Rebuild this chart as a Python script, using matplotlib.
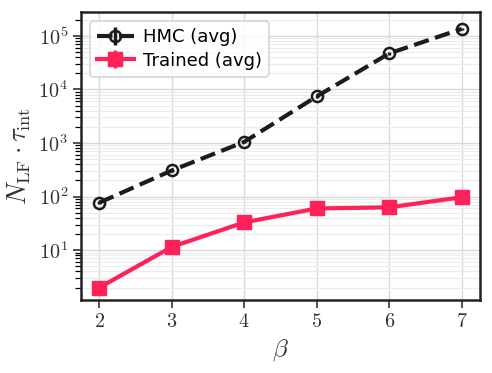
import matplotlib
matplotlib.use("Agg")
import matplotlib.pyplot as plt
from matplotlib.ticker import LogLocator, NullFormatter

beta = [2, 3, 4, 5, 6, 7]
hmc_avg = [77, 307, 1050, 7400, 47000, 135000]
hmc_err = [4, 15, 60, 400, 2500, 7000]
trained_avg = [2.0, 11.5, 33, 60, 63, 97]
trained_err = [0.1, 0.6, 1.5, 3, 3, 5]

plt.rcParams['mathtext.fontset'] = 'cm'
plt.rcParams['axes.formatter.use_mathtext'] = True

fig, ax = plt.subplots(figsize=(4.92, 3.73), dpi=100)
fig.subplots_adjust(left=0.165, right=0.975, bottom=0.195, top=0.968)

ax.errorbar(beta, hmc_avg, yerr=hmc_err, color='#1c1c1c', ls='--', lw=3,
            marker='o', ms=8, mfc='none', mew=1.8, elinewidth=2.5,
            label='HMC (avg)')
ax.errorbar(beta, trained_avg, yerr=trained_err, color='#ff2157', ls='-', lw=3,
            marker='s', ms=10, elinewidth=2.5, label='Trained (avg)')

ax.set_yscale('log')
ax.set_ylim(1.16, 2.8e5)
ax.set_xlim(1.75, 7.25)
ax.set_xticks(beta)
ax.yaxis.set_minor_locator(LogLocator(base=10, subs=range(2, 10), numticks=20))
ax.yaxis.set_minor_formatter(NullFormatter())

ax.grid(True, which='major', color='#d9d9d9', lw=1)
ax.grid(True, which='minor', axis='y', color='#ececec', lw=0.8)
ax.set_axisbelow(True)

for s in ax.spines.values():
    s.set_linewidth(1.8)
    s.set_color('#222222')

ax.tick_params(which='major', direction='out', length=6, width=1.2,
               labelsize=14.5, colors='#333333', top=False, right=False)
ax.tick_params(which='minor', direction='out', length=4, width=0.9,
               top=False, right=False)
for lab in ax.get_xticklabels() + ax.get_yticklabels():
    lab.set_fontfamily('cmr10')

ax.set_xlabel(r'$\beta$', fontsize=18, color='#333333')
ax.set_ylabel(r'$N_{\rm LF}\cdot\tau_{\rm int}$', fontsize=19, color='#333333')

leg = ax.legend(loc='upper left', fontsize=13, frameon=True, fancybox=True,
                edgecolor='#cccccc', handlelength=2.0, borderpad=0.4,
                labelspacing=0.3, handletextpad=0.5)
leg.get_frame().set_linewidth(1.2)

fig.savefig('out.png', dpi=100)
